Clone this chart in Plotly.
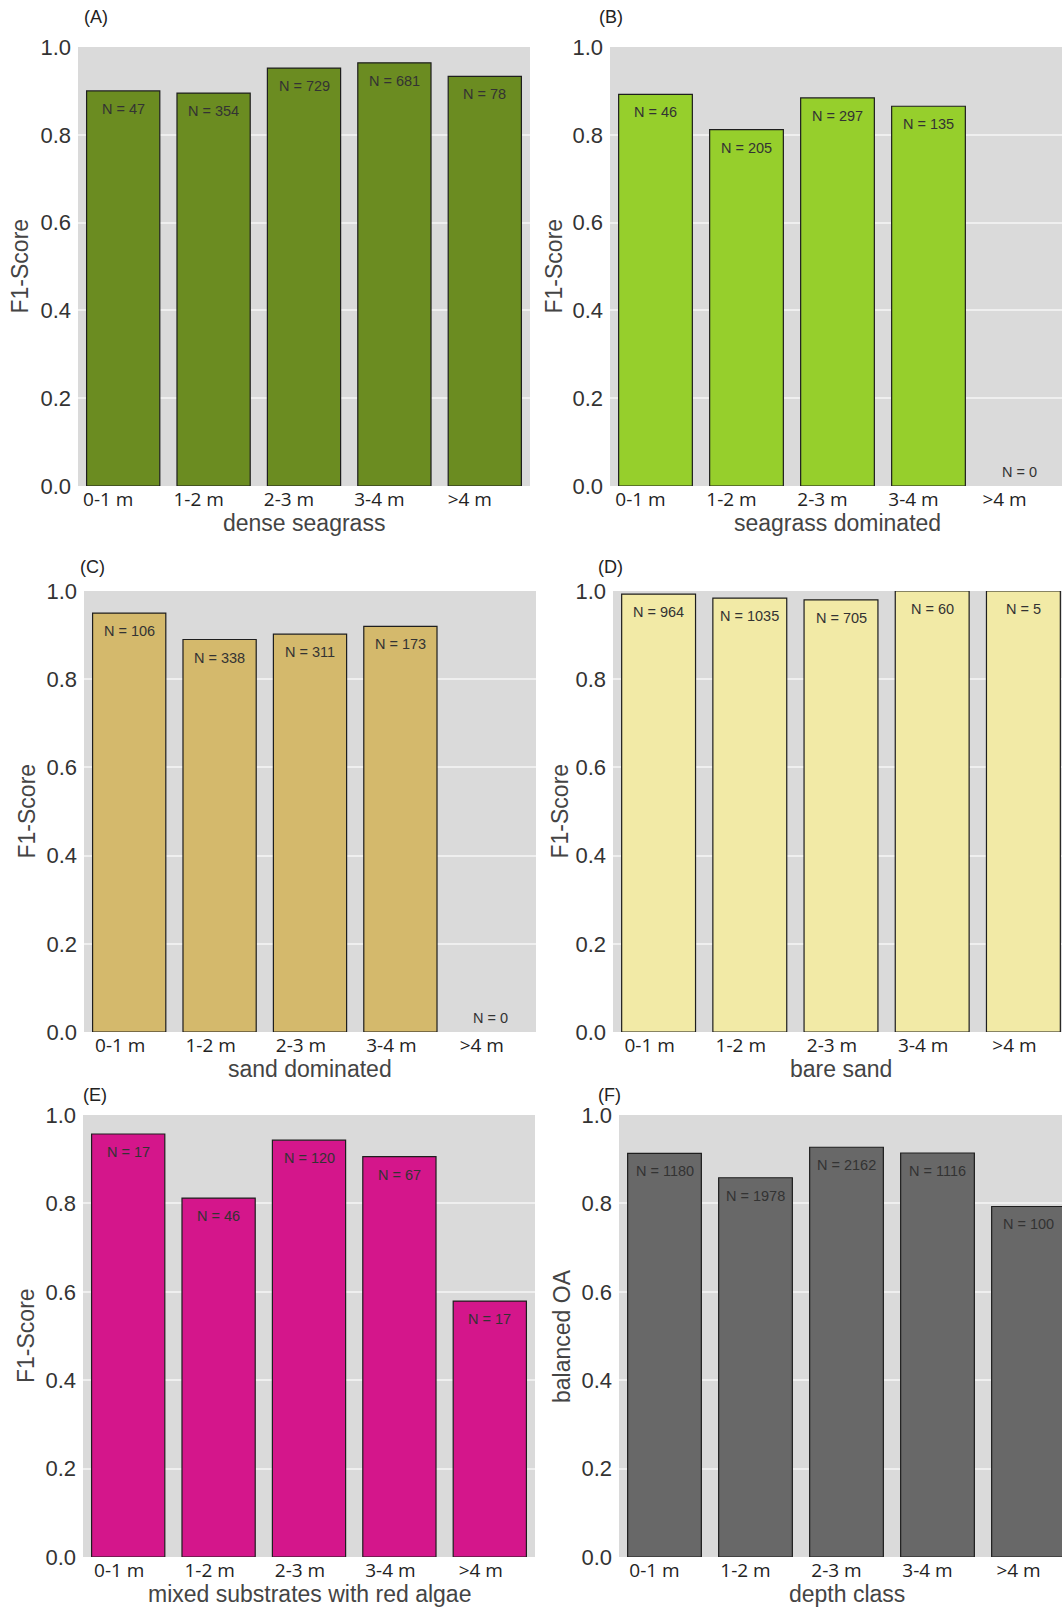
import plotly.graph_objects as go

W, H = 1062, 1608

# ---- data ---------------------------------------------------------------
depth_classes = ["0-1 m", "1-2 m", "2-3 m", "3-4 m", ">4 m"]

dense_seagrass_f1 = [0.900, 0.895, 0.952, 0.964, 0.933]
dense_seagrass_n = [47, 354, 729, 681, 78]

seagrass_dominated_f1 = [0.892, 0.812, 0.884, 0.865, None]
seagrass_dominated_n = [46, 205, 297, 135, 0]

sand_dominated_f1 = [0.950, 0.890, 0.902, 0.920, None]
sand_dominated_n = [106, 338, 311, 173, 0]

bare_sand_f1 = [0.993, 0.984, 0.980, 1.0, 1.0]
bare_sand_n = [964, 1035, 705, 60, 5]

mixed_red_algae_f1 = [0.957, 0.812, 0.943, 0.906, 0.579]
mixed_red_algae_n = [17, 46, 120, 67, 17]

balanced_oa = [0.913, 0.858, 0.927, 0.914, 0.793]
total_n = [1180, 1978, 2162, 1116, 100]

y_ticks = [0.0, 0.2, 0.4, 0.6, 0.8, 1.0]

# ---- panel geometry (pixels) and styling ---------------------------------
panels = [
    dict(tag="(A)", vals=dense_seagrass_f1, ns=dense_seagrass_n, color="#6b8c21",
         xtitle="dense seagrass", ytitle="F1-Score", lshift=-15,
         left=78, pitch=90.4, top=47, bottom=486, ytx=19, tagx=82, tagy=17),
    dict(tag="(B)", vals=seagrass_dominated_f1, ns=seagrass_dominated_n, color="#96cf2c",
         xtitle="seagrass dominated", ytitle="F1-Score", lshift=-15,
         left=610, pitch=91, top=47, bottom=486, ytx=553, tagx=597, tagy=17),
    dict(tag="(C)", vals=sand_dominated_f1, ns=sand_dominated_n, color="#d4b96c",
         xtitle="sand dominated", ytitle="F1-Score", lshift=-9,
         left=84, pitch=90.4, top=591, bottom=1032, ytx=26, tagx=78, tagy=567),
    dict(tag="(D)", vals=bare_sand_f1, ns=bare_sand_n, color="#f2eaa6",
         xtitle="bare sand", ytitle="F1-Score", lshift=-9,
         left=613, pitch=91.2, top=591, bottom=1032, ytx=559, tagx=596, tagy=567),
    dict(tag="(E)", vals=mixed_red_algae_f1, ns=mixed_red_algae_n, color="#d4168b",
         xtitle="mixed substrates with red algae", ytitle="F1-Score", lshift=-9,
         left=83, pitch=90.4, top=1115, bottom=1557, ytx=26, tagx=81, tagy=1095),
    dict(tag="(F)", vals=balanced_oa, ns=total_n, color="#686868",
         xtitle="depth class", ytitle="balanced OA", lshift=-10,
         left=619, pitch=91, top=1115, bottom=1557, ytx=562, tagx=596, tagy=1095),
]

TEXT = "Liberation Sans, Arial, sans-serif"

fig = go.Figure()
annotations = []
layout_axes = {}

for i, p in enumerate(panels, start=1):
    suffix = "" if i == 1 else str(i)
    xa, ya = "x" + suffix, "y" + suffix

    full_right = p["left"] + 5 * p["pitch"]
    right = min(full_right, W)
    x_hi = -0.5 + (right - p["left"]) / p["pitch"]

    fig.add_trace(go.Bar(
        x=depth_classes, y=p["vals"], xaxis=xa, yaxis=ya,
        width=0.81, marker=dict(color=p["color"], line=dict(color="#1e1e1e", width=1.2)),
        showlegend=False, hoverinfo="x+y",
    ))

    layout_axes["xaxis" + suffix] = dict(
        domain=[p["left"] / W, right / W], anchor=ya, type="category",
        categoryorder="array", categoryarray=depth_classes,
        range=[-0.5, x_hi], showgrid=False, zeroline=False, showline=False,
        ticks="", automargin=False, ticklabelshift=p["lshift"],
        tickfont=dict(family="Open Sans, sans-serif", size=19, color="#222"),
        fixedrange=True,
    )
    layout_axes["yaxis" + suffix] = dict(
        domain=[1 - p["bottom"] / H, 1 - p["top"] / H], anchor=xa,
        range=[0, 1.0], tickvals=y_ticks, tickformat=".1f",
        showgrid=True, gridcolor="#efefef", gridwidth=1.5,
        zeroline=False, showline=False, ticks="", automargin=False,
        ticklabelstandoff=6,
        tickfont=dict(family=TEXT, size=22, color="#333"),
        fixedrange=True,
    )

    # sample counts inside the bars
    for k, (v, n) in enumerate(zip(p["vals"], p["ns"])):
        base = v if v is not None else 0.0
        annotations.append(dict(
            x=k, y=base, xref=xa, yref=ya, text=f"N = {n}", showarrow=False,
            yshift=-18 if v is not None else 14,
            font=dict(family=TEXT, size=14.5, color="#333"),
        ))

    # axis titles
    annotations.append(dict(
        x=(p["left"] + full_right) / 2 / W, y=1 - (p["bottom"] + 37) / H,
        xref="paper", yref="paper", text=p["xtitle"], showarrow=False,
        xanchor="center", yanchor="middle",
        font=dict(family=TEXT, size=23, color="#444"),
    ))
    annotations.append(dict(
        x=p["ytx"] / W, y=1 - (p["top"] + p["bottom"]) / 2 / H,
        xref="paper", yref="paper", text=p["ytitle"], showarrow=False, textangle=-90,
        xanchor="center", yanchor="middle",
        font=dict(family=TEXT, size=23, color="#444"),
    ))
    # panel tag
    annotations.append(dict(
        x=p["tagx"] / W, y=1 - p["tagy"] / H, xref="paper", yref="paper",
        text=p["tag"], showarrow=False, xanchor="left", yanchor="middle",
        font=dict(family=TEXT, size=18, color="#222"),
    ))

fig.update_layout(
    width=W, height=H, margin=dict(l=0, r=0, t=0, b=0, pad=0, autoexpand=False),
    paper_bgcolor="white", plot_bgcolor="#dadada",
    bargap=0.19, annotations=annotations, **layout_axes,
)

fig.write_html("out.html", config={"displayModeBar": False})
